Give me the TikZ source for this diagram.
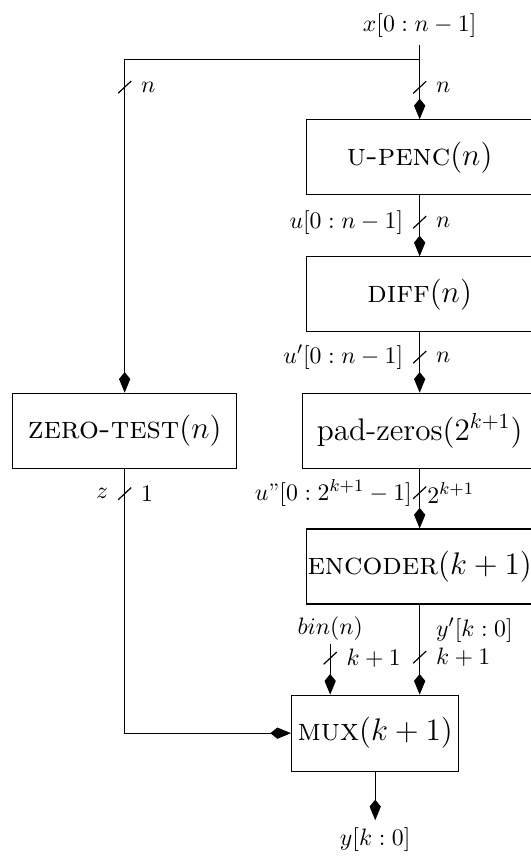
\documentclass[tikz,border=0pt]{standalone}
\usepackage{amsmath}
\usetikzlibrary{arrows.meta,positioning}
\tikzset{>={Kite[length=9.5pt,width=5.2pt,inset=3.2pt]}}

\begin{document}
\begin{tikzpicture}[line width=0.55pt, every node/.style={font=\fontsize{11}{13}\selectfont},
	block/.style={draw, rectangle, font=\Large, inner xsep=0pt, minimum width=3.66cm, minimum height=1.215cm},
	busmark/.pic={\draw[-] (-3pt,-2.8pt) -- (3pt,2.8pt);}]
	\useasboundingbox (0,0) rectangle (8.60,13.87);
	
	% Blocks
	\node[block] (upenc) at (6.80,11.32) {\textsc{u-penc}$(n)$};
	\node[block] (diff) at (6.80,9.10) {\textsc{diff}$(n)$};
	\node[block, minimum width=3.79cm] (padzeros) at (6.80,6.89) {pad-zeros$(2^{k+1})$};
	\node[block, minimum width=3.63cm] (zerotest) at (2.02,6.89) {\textsc{zero-test}$(n)$};
	\node[block] (encoder) at (6.80,4.69) {\textsc{encoder}$(k+1)$};
	\node[block, minimum width=2.71cm, minimum height=1.23cm] (mux) at (6.08,1.99) {\textsc{mux}$(k+1)$};
	
	% Inputs and output
	\node (xin) at (6.80,13.46) {$x[0:n-1]$};
	\coordinate (split) at (6.80,12.90);
	\node[inner sep=1.5pt] (bin) at (5.35,3.69) {$bin(n)$};
	\node (yout) at (6.08,0.26) {$y[k:0]$};
	
	% Buses
	\draw[->] (xin) -- (upenc)
		pic[pos=0.57]{busmark} node[pos=0.57, right=4pt] {$n$};
	\draw[->] (split) -| (zerotest)
		pic[pos=0.541]{busmark} node[pos=0.541, right=4pt] {$n$};
	\draw[->] (upenc) -- (diff)
		pic[pos=0.44]{busmark} node[pos=0.44, right=4pt] {$n$}
		node[pos=0.44, left=4pt] {$u[0:n-1]$};
	\draw[->] (diff) -- (padzeros)
		pic[pos=0.41]{busmark} node[pos=0.41, right=4pt] {$n$}
		node[pos=0.41, left=4pt] {$u'[0:n-1]$};
	\draw[->] (padzeros) -- (encoder)
		pic[pos=0.40]{busmark} node[pos=0.40, right=0pt] {$2^{k+1}$}
		node[pos=0.40, left=0pt] {$u$''$[0:2^{k+1}-1]$};
	\draw[->] (encoder.south) -- (encoder.south |- mux.north)
		node[pos=0.286, right=4pt] {$y'[k:0]$}
		pic[pos=0.584]{busmark} node[pos=0.584, right=4pt] {$k+1$};
	\draw[->] (bin) -- (bin |- mux.north)
		pic[pos=0.28]{busmark} node[pos=0.28, right=4pt] {$k+1$};
	\draw[->] (zerotest) |- (mux)
		pic[pos=0.047]{busmark} node[pos=0.047, right=4pt] {$1$}
		node[pos=0.047, left=4pt] {$z$};
	\draw[->] (mux) -- (yout);
\end{tikzpicture}
\end{document}
